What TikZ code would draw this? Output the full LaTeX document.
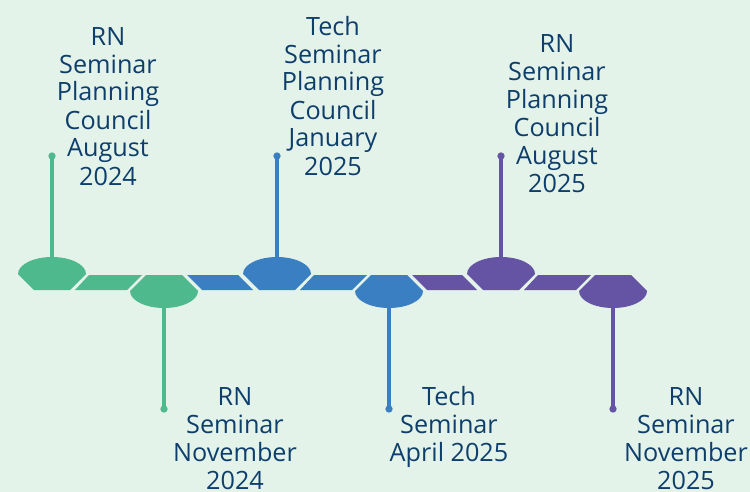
\documentclass[tikz,border=0pt]{standalone}
\usepackage{fontspec}
\setmainfont{Open Sans}

\definecolor{tl-BackColor}{rgb}{0.894,0.953,0.918}
\definecolor{tl-TextColor}{rgb}{0.055,0.243,0.420}
\definecolor{tl-GreenColor}{rgb}{0.310,0.725,0.557}
\definecolor{tl-BlueColor}{rgb}{0.227,0.498,0.757}
\definecolor{tl-PurpleColor}{rgb}{0.396,0.325,0.643}
\tikzstyle{tl-label}=[align=center,
                      text=tl-TextColor,
                      inner sep=0pt,
                      anchor=base,
                      font=\fontsize{18.9}{21}\selectfont,
                     ]
\tikzstyle{tl-dot}=[circle, inner sep=0pt, minimum size=5.5pt]
\tikzstyle{tl-stem}=[line width=2.3pt]

\begin{document}
\begin{tikzpicture}[x=0.75pt, y=-0.75pt]
    \fill[tl-BackColor] (0,0) rectangle (750,492);
    \useasboundingbox (0,0) rectangle (750,492);

    % Caps
    % --------------------------------------------------------------------------
    \fill[tl-GreenColor] (18,274) arc[start angle=180, end angle=0, x radius=25.5pt, y radius=12.75pt]
                           -- (70,290) -- (34,290) -- cycle;
    \fill[tl-GreenColor] (146,275) -- (182,275) -- (198,291)
                           arc[start angle=0, end angle=-180, x radius=25.5pt, y radius=12.75pt] -- cycle;
    \fill[tl-BlueColor]  (243,274) arc[start angle=180, end angle=0, x radius=25.5pt, y radius=12.75pt]
                           -- (295,290) -- (259,290) -- cycle;
    \fill[tl-BlueColor]  (371,275) -- (407,275) -- (423,291)
                           arc[start angle=0, end angle=-180, x radius=25.5pt, y radius=12.75pt] -- cycle;
    \fill[tl-PurpleColor] (467,274) arc[start angle=180, end angle=0, x radius=25.5pt, y radius=12.75pt]
                           -- (519,290) -- (483,290) -- cycle;
    \fill[tl-PurpleColor] (595,275) -- (631,275) -- (647,291)
                           arc[start angle=0, end angle=-180, x radius=25.5pt, y radius=12.75pt] -- cycle;

    % Bars
    % --------------------------------------------------------------------------
    \fill[tl-GreenColor]  (75,290) -- (89,275) -- (142,275) -- (127,290) -- cycle;
    \fill[tl-BlueColor]   (187,275) -- (202,290) -- (253,290) -- (238,275) -- cycle;
    \fill[tl-BlueColor]   (300,290) -- (314,275) -- (367,275) -- (352,290) -- cycle;
    \fill[tl-PurpleColor] (412,275) -- (427,290) -- (477,290) -- (462,275) -- cycle;
    \fill[tl-PurpleColor] (524,290) -- (538,275) -- (591,275) -- (576,290) -- cycle;

    % Stems
    % --------------------------------------------------------------------------
    \coordinate (cap_up1) at (52,258);
    \coordinate (cap_lo1) at (164,307);
    \coordinate (cap_up2) at (277,258);
    \coordinate (cap_lo2) at (389,307);
    \coordinate (cap_up3) at (501,258);
    \coordinate (cap_lo3) at (613,307);

    \node at ( 52,156) (dot_up1) [tl-dot, fill=tl-GreenColor] {};
    \node at (164,409) (dot_lo1) [tl-dot, fill=tl-GreenColor] {};
    \node at (277,156) (dot_up2) [tl-dot, fill=tl-BlueColor] {};
    \node at (389,409) (dot_lo2) [tl-dot, fill=tl-BlueColor] {};
    \node at (501,156) (dot_up3) [tl-dot, fill=tl-PurpleColor] {};
    \node at (613,409) (dot_lo3) [tl-dot, fill=tl-PurpleColor] {};

    \draw[tl-stem, tl-GreenColor]  (cap_up1) -- (dot_up1.center);
    \draw[tl-stem, tl-GreenColor]  (cap_lo1) -- (dot_lo1.center);
    \draw[tl-stem, tl-BlueColor]   (cap_up2) -- (dot_up2.center);
    \draw[tl-stem, tl-BlueColor]   (cap_lo2) -- (dot_lo2.center);
    \draw[tl-stem, tl-PurpleColor] (cap_up3) -- (dot_up3.center);
    \draw[tl-stem, tl-PurpleColor] (cap_lo3) -- (dot_lo3.center);

    % Labels (anchored at the baseline of the last line)
    % --------------------------------------------------------------------------
    \node at (108,185) (label_up1) [tl-label] {RN\\Seminar\\Planning\\Council\\August\\2024};
    \node at (235,489) (label_lo1) [tl-label] {RN\\Seminar\\November\\2024};
    \node at (333,175) (label_up2) [tl-label] {Tech\\Seminar\\Planning\\Council\\January\\2025};
    \node at (449,461) (label_lo2) [tl-label] {Tech\\Seminar\\April 2025};
    \node at (557,192) (label_up3) [tl-label] {RN\\Seminar\\Planning\\Council\\August\\2025};
    \node at (686,489) (label_lo3) [tl-label] {RN\\Seminar\\November\\2025};
\end{tikzpicture}
\end{document}
